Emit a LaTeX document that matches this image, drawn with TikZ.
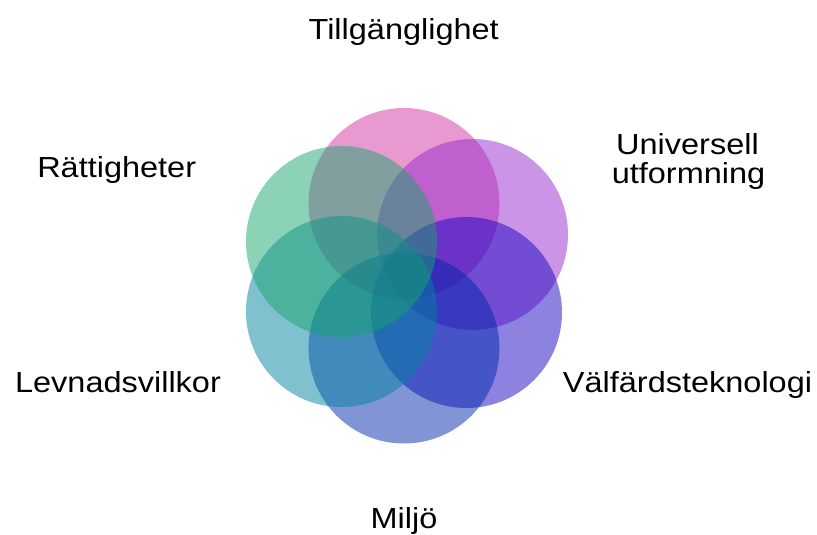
\documentclass[tikz,border=0pt]{standalone}
\usepackage{fontspec}
\setmainfont{Liberation Sans}[FakeStretch=1.12]
\definecolor{pinkc}{RGB}{209,51,161}
\definecolor{purplec}{RGB}{151,41,205}
\definecolor{greenc}{RGB}{25,165,109}
\definecolor{tealc}{RGB}{1,131,161}
\definecolor{bluec}{RGB}{1,41,173}
\definecolor{violetc}{RGB}{27,5,191}
\tikzset{
  ring/.style={circle, minimum size=191pt, inner sep=0pt, draw=none, fill=#1, fill opacity=0.5},
  lbl/.style={anchor=base, inner sep=0pt, font=\fontsize{29}{29}\selectfont, text=black}
}
\begin{document}
\begin{tikzpicture}[x=1pt,y=-1pt]
\useasboundingbox (0,0) rectangle (817,535);
\node[ring=pinkc]   (cpink)   at (404,203.5) {};
\node[ring=purplec] (cpurple) at (472.5,234.5) {};
\node[ring=violetc] (cviolet) at (466.5,312.5) {};
\node[ring=bluec]   (cblue)   at (404,348) {};
\node[ring=tealc]   (cteal)   at (341.5,311.5) {};
\node[ring=greenc]  (cgreen)  at (341.5,241.5) {};
\node[lbl] (t1) at (403.7,39.3) {Tillgänglighet};
\node[lbl] (t2) at (116.7,177.3) {Rättigheter};
\node[lbl] (t3a) at (687.5,154) {Universell};
\node[lbl] (t3b) at (688.5,183) {utformning};
\node[lbl] (t4) at (118,392.3) {Levnadsvillkor};
\node[lbl] (t5) at (687.5,392.3) {Välfärdsteknologi};
\node[lbl] (t6) at (404,528) {Miljö};
\end{tikzpicture}
\end{document}
